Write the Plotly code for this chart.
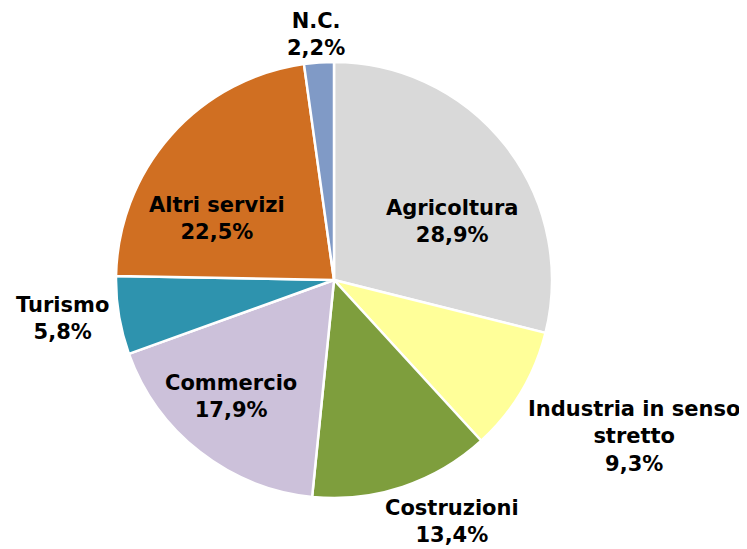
import plotly.graph_objects as go

categories = ["Agricoltura", "Industria in senso<br>stretto", "Costruzioni", "Commercio",
              "Turismo", "Altri servizi", "N.C."]
values = [28.9, 9.3, 13.4, 17.9, 5.8, 22.5, 2.2]
value_labels = ["28,9%", "9,3%", "13,4%", "17,9%", "5,8%", "22,5%", "2,2%"]

colors = ["#D9D9D9", "#FFFF99", "#7E9E3D", "#CCC1DA", "#2E93AE", "#D06F22", "#809AC6"]

# label anchor positions in screen pixels (x, y from top)
label_px = [(452, 221), (634, 436), (452, 521), (231, 396), (62, 318), (217, 218), (316, 34)]

W, H = 747, 549
OFF = 8  # page body margin
cx, cy, r = 334 - OFF, 280 - OFF, 218

fig = go.Figure()
fig.add_trace(go.Pie(
    labels=[c.replace("<br>", " ") for c in categories],
    values=values,
    sort=False,
    direction="clockwise",
    rotation=0,
    textinfo="none",
    hoverinfo="label+percent",
    marker=dict(colors=colors, line=dict(color="white", width=2.5)),
    domain=dict(x=[(cx - r) / W, (cx + r) / W], y=[1 - (cy + r) / H, 1 - (cy - r) / H]),
    showlegend=False,
))

for cat, lab, (px, py) in zip(categories, value_labels, label_px):
    fig.add_annotation(
        x=(px - OFF) / W, y=1 - (py - OFF) / H, xref="paper", yref="paper",
        text=f"{cat}<br>{lab}", showarrow=False,
        xanchor="center", yanchor="middle", align="center",
        font=dict(family="DejaVu Sans", size=21, color="black", weight="bold"),
    )

fig.update_layout(
    width=W, height=H,
    margin=dict(l=0, r=0, t=0, b=0),
    paper_bgcolor="white", plot_bgcolor="white",
)
fig.write_html("out.html")
